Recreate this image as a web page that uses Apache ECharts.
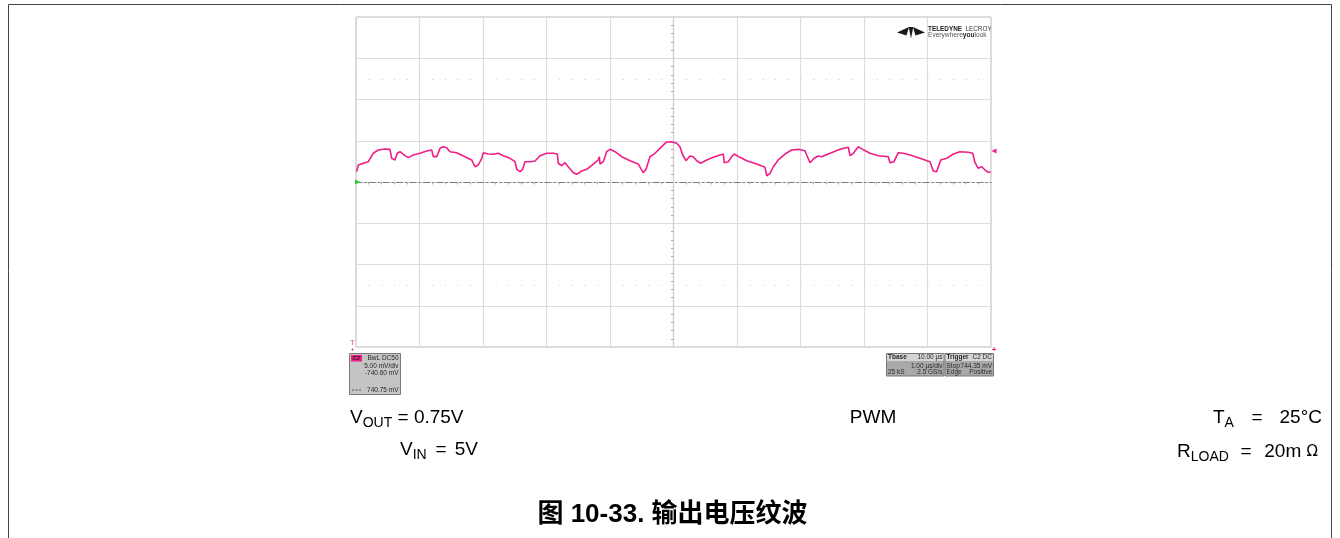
<!DOCTYPE html>
<html>
<head>
<meta charset="utf-8">
<script src="https://cdn.jsdelivr.net/npm/echarts@6/dist/echarts.min.js"></script>
<style>
html,body{margin:0;padding:0;background:#fff;}
#chart{width:1340px;height:538px;}
</style>
</head>
<body>
<div id="chart"></div>
<script>
// ---- Data read from the scope capture (time in µs relative to screen centre, voltage in mV) ----
const TIME_US = [
 -4.989,-4.964,-4.885,-4.806,-4.728,-4.649,-4.543,-4.465,-4.438,-4.386,-4.350,-4.307,-4.228,-4.176,-4.098,
 -3.992,-3.887,-3.808,-3.783,-3.729,-3.677,-3.625,-3.572,-3.520,-3.414,-3.310,-3.178,-3.154,-3.126,-3.074,
 -3.020,-2.995,-2.917,-2.838,-2.759,-2.680,-2.575,-2.496,-2.469,-2.417,-2.375,-2.339,-2.260,-2.181,-2.102,
 -1.997,-1.893,-1.830,-1.814,-1.761,-1.709,-1.657,-1.578,-1.524,-1.446,-1.367,-1.263,-1.184,-1.168,-1.157,
 -1.106,-1.052,-1.000,-0.921,-0.816,-0.685,-0.554,-0.517,-0.476,-0.433,-0.370,-0.291,-0.213,-0.118,-0.028,
 0.050,0.102,0.145,0.197,0.260,0.312,0.365,0.428,0.523,0.627,0.732,0.784,0.800,0.863,0.917,
 0.957,1.047,1.153,1.310,1.441,1.468,1.520,1.572,1.650,1.756,1.861,1.965,2.071,2.098,2.150,
 2.213,2.280,2.334,2.465,2.622,2.753,2.780,2.832,2.910,2.980,3.094,3.225,3.383,3.409,3.472,
 3.540,3.619,3.724,3.882,4.039,4.091,4.145,4.208,4.302,4.406,4.512,4.643,4.713,4.748,4.800,
 4.854,4.906,4.957,4.994
];
const VOUT_MV = [
 741.85,742.66,742.87,743.06,744.08,744.48,744.60,744.56,743.47,743.27,744.08,744.27,743.79,743.55,743.87,
 744.08,744.36,744.48,743.67,743.67,744.68,744.88,744.76,744.27,744.15,743.75,743.27,743.06,742.45,742.66,
 743.47,744.15,743.99,743.96,744.08,743.79,743.47,743.06,742.14,741.85,742.14,743.06,743.06,743.15,743.79,
 744.08,744.08,743.99,742.87,742.58,742.94,742.45,741.73,741.53,741.93,742.14,742.78,743.27,743.67,742.78,
 743.06,744.27,744.56,744.27,743.67,743.18,742.78,742.26,741.73,742.14,743.67,744.08,744.68,745.41,745.48,
 745.29,744.88,743.87,743.18,743.75,743.67,743.18,742.87,743.27,743.59,743.87,743.99,742.94,743.06,743.67,
 743.99,743.59,743.18,742.78,742.38,741.36,741.65,742.45,743.27,743.99,744.48,744.56,744.39,743.87,742.94,
 743.47,743.75,743.67,744.08,744.56,744.81,743.79,744.08,744.88,744.56,744.08,743.79,743.67,742.94,743.06,
 744.15,744.08,743.87,743.47,743.06,741.93,741.85,743.27,743.47,743.99,744.27,744.20,744.08,742.94,742.26,
 742.45,742.05,741.78,741.78
];
const OFFSET_MV = 740.60;      // channel offset (screen centre)
const VOLT_PER_DIV = 5;        // mV/div
const TIME_PER_DIV = 1;        // µs/div
const TRIGGER_MV = 744.35;
const V_DIVS = 8, T_DIVS = 10;

const CH_INFO = ['BwL DC50', '5.00 mV/div', '-740.60 mV', '740.75 mV'];
const TBASE_INFO = ['Tbase', '10.00 µs', '1.00 µs/div', '25 kS', '2.5 GS/s'];
const TRIG_INFO = ['Trigger', 'C2 DC', 'Stop', '744.35 mV', 'Edge', 'Positive'];
const TITLE = '图 10-33. 输出电压纹波';

const TRACE = '#f01e84';
const FONT = "'Liberation Sans', Arial, 'Noto Sans CJK SC', sans-serif";

const chart = echarts.init(document.getElementById('chart'), null, {renderer: 'canvas'});

function t(x, y, text, opt) {
  return Object.assign({type: 'text', x: x, y: y, silent: true,
    style: Object.assign({text: text, fill: '#2a2a2a', font: '6.5px ' + FONT, textVerticalAlign: 'middle'}, opt || {})});
}
const RICH = {
  m: {fontSize: 19, fontFamily: FONT, lineHeight: 24, verticalAlign: 'middle', fill: '#000'},
  s: {fontSize: 14, fontFamily: FONT, lineHeight: 14, verticalAlign: 'bottom', fill: '#000'},
  o: {fontSize: 15, fontFamily: "'DejaVu Sans', sans-serif", lineHeight: 24, verticalAlign: 'middle', fill: '#000'}
};
function rtext(x, y, text, align) {
  return {type: 'text', x: x, y: y, silent: true,
    style: {text: text, align: align || 'left', verticalAlign: 'middle', rich: RICH}};
}

const graphic = [
  // outer figure frame
  {type: 'polyline', silent: true, shape: {points: [[8.5, 540], [8.5, 4.5], [1331.5, 4.5], [1331.5, 540]]},
    style: {stroke: '#444', lineWidth: 1, fill: null}},
  // logo
  {type: 'polygon', silent: true, shape: {points: [[897, 32.5], [909, 27], [906.5, 35.5]]}, style: {fill: '#1a1a1a'}},
  {type: 'polygon', silent: true, shape: {points: [[908.7, 27], [913.3, 27], [911, 38.5]]}, style: {fill: '#1a1a1a'}},
  {type: 'polygon', silent: true, shape: {points: [[925, 32.5], [913, 27], [915.5, 35.5]]}, style: {fill: '#1a1a1a'}},
  {type: 'text', x: 928, y: 29.5, silent: true,
    style: {text: '{b|TELEDYNE} {r|LECROY}', verticalAlign: 'middle',
      rich: {b: {fontSize: 6.4, fontWeight: 'bold', fontFamily: FONT, fill: '#222'}, r: {fontSize: 6.4, fontFamily: FONT, fill: '#333'}}}},
  {type: 'text', x: 928, y: 35.5, silent: true,
    style: {text: '{r|Everywhere}{b|you}{r|look}', verticalAlign: 'middle',
      rich: {b: {fontSize: 6.6, fontWeight: 'bold', fontFamily: FONT, fill: '#222'}, r: {fontSize: 6.6, fontFamily: FONT, fill: '#555'}}}},

  // channel box
  {type: 'rect', silent: true, shape: {x: 349.5, y: 353.5, width: 51, height: 41}, style: {fill: '#c4c4c4', stroke: '#7a7a7a', lineWidth: 1}},
  {type: 'rect', silent: true, shape: {x: 351, y: 355, width: 11, height: 6.5}, style: {fill: '#ee1d86'}},
  t(352.5, 358.5, 'C2', {font: 'italic bold 6px ' + FONT, fill: '#222'}),
  t(398.5, 358.5, CH_INFO[0], {textAlign: 'right'}),
  t(398.5, 366.5, CH_INFO[1], {textAlign: 'right'}),
  t(398.5, 373.5, CH_INFO[2], {textAlign: 'right'}),
  t(398.5, 390, CH_INFO[3], {textAlign: 'right'}),
  {type: 'line', silent: true, shape: {x1: 352, y1: 390, x2: 362, y2: 390}, style: {stroke: '#555', lineWidth: 1, lineDash: [2, 1.5]}},

  // timebase box
  {type: 'rect', silent: true, shape: {x: 886.5, y: 353.5, width: 57.5, height: 22.5}, style: {fill: '#a9a9a9', stroke: '#777', lineWidth: 1}},
  {type: 'rect', silent: true, shape: {x: 887, y: 354, width: 56.5, height: 7}, style: {fill: '#d4d4d4'}},
  t(888, 357.5, TBASE_INFO[0], {font: 'bold 6.5px ' + FONT}),
  t(942.5, 357.5, TBASE_INFO[1], {textAlign: 'right'}),
  t(942.5, 366, TBASE_INFO[2], {textAlign: 'right'}),
  t(888, 372.5, TBASE_INFO[3]),
  t(942.5, 372.5, TBASE_INFO[4], {textAlign: 'right'}),
  // trigger box
  {type: 'rect', silent: true, shape: {x: 945, y: 353.5, width: 48.5, height: 22.5}, style: {fill: '#a9a9a9', stroke: '#777', lineWidth: 1}},
  {type: 'rect', silent: true, shape: {x: 945.5, y: 354, width: 47.5, height: 7}, style: {fill: '#d4d4d4'}},
  t(946.5, 357.5, TRIG_INFO[0], {font: 'bold 6.5px ' + FONT}),
  t(992, 357.5, TRIG_INFO[1], {textAlign: 'right'}),
  t(946.5, 366, TRIG_INFO[2]),
  t(992, 366, TRIG_INFO[3], {textAlign: 'right'}),
  t(946.5, 372.5, TRIG_INFO[4]),
  t(992, 372.5, TRIG_INFO[5], {textAlign: 'right'}),
  // small pink markers
  t(994, 349.5, '+', {font: 'bold 8px ' + FONT, fill: TRACE, textAlign: 'center'}),
  t(352.5, 343.5, 'T', {font: 'bold 7px ' + FONT, fill: '#f070b0', textAlign: 'center'}),
  t(352.5, 349, '+', {font: 'bold 6px ' + FONT, fill: TRACE, textAlign: 'center'}),

  // condition texts
  rtext(350, 418, '{m|V}{s|OUT}{m| = 0.75V}', 'left'),
  rtext(400, 450, '{m|V}{s|IN}', 'left'),
  rtext(441, 450, '{m|=}', 'center'),
  rtext(478, 450, '{m|5V}', 'right'),
  {type: 'text', x: 873, y: 418, silent: true, style: {text: 'PWM', font: '19px ' + FONT, fill: '#000', textAlign: 'center', textVerticalAlign: 'middle'}},
  rtext(1213, 418, '{m|T}{s|A}', 'left'),
  rtext(1257, 418, '{m|=}', 'center'),
  rtext(1322, 418, '{m|25°C}', 'right'),
  rtext(1177, 452, '{m|R}{s|LOAD}', 'left'),
  rtext(1246, 452, '{m|=}', 'center'),
  rtext(1318, 452, '{m|20m }{o|Ω}', 'right'),
  {type: 'text', x: 672.5, y: 515, silent: true,
    style: {text: TITLE, font: 'bold 26px ' + FONT, fill: '#000', textAlign: 'center', textVerticalAlign: 'middle'}}
];

const seriesData = TIME_US.map((tt, i) => [tt, VOUT_MV[i] - OFFSET_MV]);

const option = {
  backgroundColor: '#fff',
  animation: false,
  grid: {left: 356, top: 17, width: 635, height: 330, show: true, borderColor: '#b8b8b8', borderWidth: 1, backgroundColor: '#fff'},
  xAxis: {
    type: 'value', min: -T_DIVS / 2 * TIME_PER_DIV, max: T_DIVS / 2 * TIME_PER_DIV, interval: TIME_PER_DIV,
    axisLine: {show: true, onZero: true, lineStyle: {color: '#7a7a7a', width: 1, type: [6, 3, 1.5, 3]}},
    axisTick: {show: false},
    minorTick: {show: true, splitNumber: 5, length: 2.5, lineStyle: {color: '#aaa'}},
    minorSplitLine: {show: false},
    axisLabel: {show: false},
    splitLine: {show: true, lineStyle: {color: '#dcdcdc', width: 1.2}}
  },
  yAxis: {
    type: 'value', min: -V_DIVS / 2 * VOLT_PER_DIV, max: V_DIVS / 2 * VOLT_PER_DIV, interval: VOLT_PER_DIV,
    axisLine: {show: true, onZero: true, lineStyle: {color: '#cfcfcf', width: 1.2}},
    axisTick: {show: false},
    minorTick: {show: true, splitNumber: 5, length: 2.5, lineStyle: {color: '#aaa'}},
    axisLabel: {show: false},
    splitLine: {show: true, lineStyle: {color: '#dcdcdc', width: 1.2}}
  },
  series: [{
    type: 'line',
    data: seriesData,
    showSymbol: false,
    smooth: false,
    lineStyle: {color: TRACE, width: 1.6},
    itemStyle: {color: TRACE},
    z: 5,
    markLine: {
      silent: true, symbol: 'none', label: {show: false},
      lineStyle: {color: '#cccccc', width: 1, type: [1, 11.7]},
      data: [{yAxis: 2.5 * VOLT_PER_DIV}, {yAxis: -2.5 * VOLT_PER_DIV}]
    },
    markPoint: {
      silent: true, label: {show: false},
      data: [
        {coord: [T_DIVS / 2 * TIME_PER_DIV, TRIGGER_MV - OFFSET_MV], symbol: 'triangle', symbolRotate: 90, symbolSize: [5, 5], symbolOffset: [3, 0], itemStyle: {color: TRACE}},
        {coord: [-T_DIVS / 2 * TIME_PER_DIV, 0], symbol: 'triangle', symbolRotate: -90, symbolSize: [5, 5], symbolOffset: [1.5, 0], itemStyle: {color: '#22cc22'}}
      ]
    }
  }],
  graphic: graphic
};
chart.setOption(option);
</script>
</body>
</html>
